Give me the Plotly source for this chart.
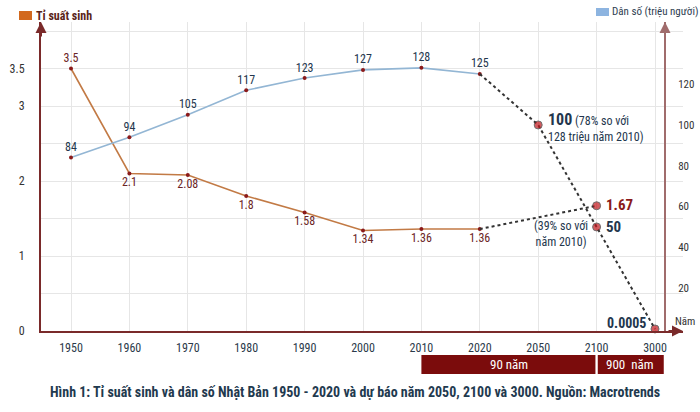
import plotly.graph_objects as go

# ---------------- data ----------------
years = ["1950", "1960", "1970", "1980", "1990", "2000", "2010", "2020", "2050", "2100", "3000"]
hist_years = ["1950", "1960", "1970", "1980", "1990", "2000", "2010", "2020"]
fertility_hist = [3.5, 2.1, 2.08, 1.8, 1.58, 1.34, 1.36, 1.36]
fertility_label = ["3.5", "2.1", "2.08", "1.8", "1.58", "1.34", "1.36", "1.36"]
population_hist = [84, 94, 105, 117, 123, 127, 128, 125]
fert_proj_years = ["2020", "2100"]
fert_proj = [1.36, 1.67]
pop_proj_years = ["2020", "2050", "2100", "3000"]
pop_proj = [125, 100, 50, 0.0005]
left_ticks = [0, 0.5, 1, 1.5, 2, 2.5, 3, 3.5, 4]
left_ticktext = ["0", "", "1", "", "2", "", "3", "3.5", ""]
right_ticks = [20, 40, 60, 80, 100, 120]
span_labels = ["90 năm", "900  năm"]
caption = "Hình 1: Tỉ suất sinh và dân số Nhật Bản 1950 - 2020 và dự báo năm 2050, 2100 và 3000. Nguồn: Macrotrends"

# ---------------- style ----------------
W, H = 700, 412
L, R, T, B = 41, 683, 22, 331
FONT = "Roboto Condensed, Liberation Sans Narrow, Roboto, sans-serif"
AXIS_RED = "#7a2a2a"
FERT_LINE = "#c27a45"
POP_LINE = "#93b6d4"
MARK = "#8b1a1a"
PROJ_MARK = "#c3161c"
NAVY = "#23364d"
FERT_TXT = "#6b2424"


def px_x(px):
    return (px - L) / (R - L)


def px_y(py):
    return (B - py) / (B - T)


def ix(year):
    return years.index(year)


fig = go.Figure()

# fertility history
fig.add_trace(go.Scatter(
    x=hist_years, y=fertility_hist, mode="lines+markers+text",
    line=dict(color=FERT_LINE, width=1.6),
    marker=dict(color=MARK, size=4),
    text=fertility_label,
    textposition=["top center"] + ["bottom center"] * 7,
    textfont=dict(family=FONT, size=12, color=FERT_TXT),
    yaxis="y", showlegend=False, cliponaxis=False))

# population history
fig.add_trace(go.Scatter(
    x=hist_years, y=population_hist, mode="lines+markers+text",
    line=dict(color=POP_LINE, width=1.6),
    marker=dict(color=MARK, size=4),
    text=[str(v) for v in population_hist],
    textposition="top center",
    textfont=dict(family=FONT, size=12, color=NAVY),
    yaxis="y2", showlegend=False, cliponaxis=False))

# projections
fig.add_trace(go.Scatter(
    x=fert_proj_years, y=fert_proj, mode="lines+markers",
    line=dict(color="#333333", width=2, dash="dot"),
    marker=dict(color=PROJ_MARK, size=[0, 8]),
    yaxis="y", showlegend=False, cliponaxis=False))
fig.add_trace(go.Scatter(
    x=pop_proj_years, y=pop_proj, mode="lines+markers",
    line=dict(color="#333333", width=2, dash="dot"),
    marker=dict(color=PROJ_MARK, size=[0, 8, 8, 8]),
    yaxis="y2", showlegend=False, cliponaxis=False))

r0 = -30 / 58.4
r1 = r0 + (R - L) / 58.4

fig.update_layout(
    width=W, height=H,
    margin=dict(l=L, r=W - R, t=T, b=H - B, autoexpand=False),
    paper_bgcolor="white", plot_bgcolor="white",
    font=dict(family=FONT, color="#333333"),
    xaxis=dict(type="category", categoryorder="array", categoryarray=years,
               range=[r0, r1], showgrid=True, gridcolor="#e6e6e6", gridwidth=1,
               showline=True, linecolor=AXIS_RED, linewidth=2, zeroline=False,
               ticks="", tickfont=dict(family=FONT, size=12, color="#2b3a4a"),
               ticklabelstandoff=5),
    yaxis=dict(range=[0, (B - T) / 75], tickvals=left_ticks, ticktext=left_ticktext,
               showgrid=True, gridcolor="#e6e6e6", gridwidth=1,
               showline=True, linecolor=AXIS_RED, linewidth=2, zeroline=False,
               ticks="", tickfont=dict(family=FONT, size=12, color="#333333"),
               ticklabelstandoff=12),
    yaxis2=dict(range=[-1, (B - T) / 2.04 - 1], tickvals=right_ticks, overlaying="y",
                side="right", anchor="free", position=px_x(665),
                showgrid=False, showline=True, linecolor="#a06c6c", linewidth=2,
                zeroline=False, ticks="", ticklabelstandoff=10,
                tickfont=dict(family=FONT, size=11, color="#333333")),
)

# hide gridlines beyond 2020
fig.add_shape(type="rect", xref="x", yref="paper", x0=ix("2020") + 0.015, x1=r1 + 0.3,
              y0=0.004, y1=1.0, fillcolor="white", line=dict(width=0), layer="between")

# axis arrows
for (x, y, ax, ay, col) in [(0, 1.0, 0, 16, AXIS_RED), (1.0, 0, -16, 0, AXIS_RED),
                            (px_x(665), 1.0, 0, 16, "#a06c6c")]:
    fig.add_annotation(x=x, y=y, xref="paper", yref="paper", ax=ax, ay=ay,
                       text="", showarrow=True, arrowhead=2, arrowsize=1.1,
                       arrowwidth=2, arrowcolor=col)

# span bars under x-axis
BAR_RED = "#7b0c0c"
fig.add_shape(type="rect", xref="x", yref="paper", x0=ix("2010"), x1=ix("2100") - 0.02,
              y0=px_y(374), y1=px_y(355), fillcolor=BAR_RED, line=dict(width=0))
fig.add_shape(type="rect", xref="x", yref="paper", x0=ix("2100") + 0.02, x1=ix("3000") + 0.15,
              y0=px_y(374), y1=px_y(355), fillcolor=BAR_RED, line=dict(width=0))
fig.add_annotation(x=(ix("2010") + ix("2100")) / 2, y=px_y(364.5), xref="x", yref="paper",
                   xanchor="center", yanchor="middle", text=span_labels[0],
                   showarrow=False, font=dict(family=FONT, size=13, color="white"))
fig.add_annotation(x=ix("2100") + 0.58, y=px_y(364.5), xref="x", yref="paper",
                   xanchor="center", yanchor="middle", text=span_labels[1],
                   showarrow=False, font=dict(family=FONT, size=13, color="white"))

# projection annotations
fig.add_annotation(x=ix("2050"), y=100, xref="x", yref="y2", xanchor="left", yanchor="top",
                   xshift=8, yshift=17, align="left", showarrow=False,
                   text='<span style="font-size:16px"><b>100</b></span> (78% so với<br>128 triệu năm 2010)',
                   font=dict(family=FONT, size=12, color=NAVY))
fig.add_annotation(x=ix("2100"), y=1.67, xref="x", yref="y", xanchor="left", yanchor="middle",
                   xshift=7, yshift=1, showarrow=False, text="<b>1.67</b>",
                   font=dict(family=FONT, size=15, color="#8b1a1a"))
fig.add_annotation(x=ix("2100"), y=50, xref="x", yref="y2", xanchor="left", yanchor="middle",
                   xshift=7, yshift=0, showarrow=False, text="<b>50</b>",
                   font=dict(family=FONT, size=15, color=NAVY))
fig.add_annotation(x=ix("2100"), y=50, xref="x", yref="y2", xanchor="right", yanchor="middle",
                   xshift=-7, yshift=-7, align="center", showarrow=False,
                   text="(39% so với<br>năm 2010)",
                   font=dict(family=FONT, size=12, color=NAVY))
fig.add_annotation(x=ix("3000"), y=0.0005, xref="x", yref="y2", xanchor="right",
                   yanchor="middle", xshift=-7, yshift=6, showarrow=False,
                   text="<b>0.0005</b>", font=dict(family=FONT, size=14, color=NAVY))
fig.add_annotation(x=px_x(673), y=px_y(321), xref="paper", yref="paper", xanchor="left",
                   yanchor="middle", showarrow=False, text="Năm",
                   font=dict(family=FONT, size=11, color="#333333"))

# legends
fig.add_shape(type="rect", xref="paper", yref="paper", x0=px_x(19), x1=px_x(32),
              y0=px_y(20), y1=px_y(11), fillcolor="#d2691e", line=dict(width=0))
fig.add_annotation(x=px_x(34), y=px_y(15.5), xref="paper", yref="paper", xanchor="left",
                   yanchor="middle", showarrow=False, text="<b>Tỉ suất sinh</b>",
                   font=dict(family=FONT, size=12, color="#5a2418"))
fig.add_shape(type="rect", xref="paper", yref="paper", x0=px_x(596), x1=px_x(609),
              y0=px_y(16), y1=px_y(8), fillcolor="#8db4e0", line=dict(width=0))
fig.add_annotation(x=px_x(610), y=px_y(12), xref="paper", yref="paper", xanchor="left",
                   yanchor="middle", showarrow=False, text="Dân số (triệu người)",
                   font=dict(family=FONT, size=11, color="#2e3d50"))

# caption
fig.add_annotation(x=px_x(355), y=px_y(392), xref="paper", yref="paper",
                   xanchor="center", yanchor="middle",
                   showarrow=False, text="<b>" + caption + "</b>",
                   font=dict(family=FONT, size=14, color="#1f3a4f"))

fig.write_html("out.html")
